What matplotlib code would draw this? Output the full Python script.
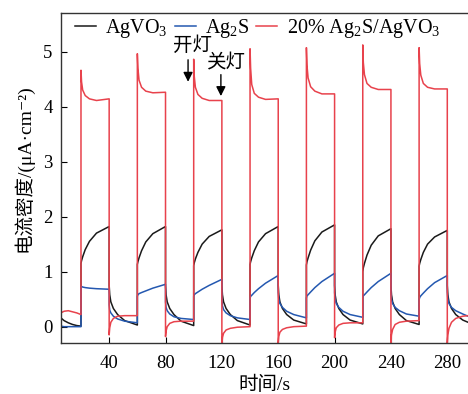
import matplotlib
matplotlib.use("Agg")
import matplotlib.pyplot as plt
import numpy as np

plt.rcParams['font.family'] = ['Liberation Serif', 'Noto Sans CJK SC', 'DejaVu Serif']
plt.rcParams['mathtext.fontset'] = 'custom'
plt.rcParams['mathtext.rm'] = 'Liberation Serif'
plt.rcParams['mathtext.it'] = 'Liberation Serif:italic'
plt.rcParams['mathtext.fallback'] = 'stix'

# 每段起点(s)与段内采样偏移(s)：灯在20,60,...开，40,80,...关
seg_start = [5.7, 20, 40, 60, 80, 100, 120, 140, 160, 180, 200, 220, 240, 260, 280]
first_offsets = [0, 2.3, 5.3, 8.3, 11.3, 14.3]
offsets = [0, 0.4, 1.2, 3, 6, 11, 20]
last_offsets = [0, 0.4, 1.2, 3, 6, 11, 14.7]

# AgVO3 (黑)
agvo3 = [
    [0.16, 0.11, 0.07, 0.04, 0.02, 0.01],
    [1.15, 1.20, 1.27, 1.40, 1.55, 1.70, 1.82],
    [0.75, 0.58, 0.45, 0.33, 0.22, 0.11, 0.03],
    [1.13, 1.18, 1.25, 1.38, 1.54, 1.69, 1.82],
    [0.75, 0.58, 0.45, 0.33, 0.22, 0.10, 0.02],
    [1.11, 1.16, 1.23, 1.35, 1.50, 1.64, 1.76],
    [0.75, 0.58, 0.45, 0.33, 0.22, 0.11, 0.03],
    [1.13, 1.18, 1.25, 1.38, 1.54, 1.69, 1.82],
    [0.75, 0.58, 0.45, 0.33, 0.22, 0.12, 0.05],
    [1.12, 1.18, 1.25, 1.39, 1.56, 1.72, 1.85],
    [0.75, 0.58, 0.45, 0.33, 0.22, 0.12, 0.05],
    [1.00, 1.07, 1.15, 1.30, 1.48, 1.65, 1.78],
    [0.75, 0.58, 0.45, 0.33, 0.22, 0.11, 0.04],
    [1.10, 1.15, 1.22, 1.35, 1.50, 1.63, 1.75],
    [0.75, 0.58, 0.45, 0.33, 0.22, 0.12, 0.08],
]

# Ag2S (蓝)
ag2s = [
    [0.01, 0.00, 0.00, 0.00, 0.00, 0.00],
    [0.72, 0.73, 0.72, 0.71, 0.70, 0.69, 0.68],
    [0.40, 0.30, 0.25, 0.19, 0.14, 0.10, 0.07],
    [0.55, 0.58, 0.60, 0.62, 0.65, 0.70, 0.77],
    [0.45, 0.35, 0.29, 0.23, 0.18, 0.15, 0.13],
    [0.55, 0.58, 0.60, 0.63, 0.68, 0.75, 0.86],
    [0.50, 0.38, 0.31, 0.25, 0.20, 0.16, 0.13],
    [0.52, 0.55, 0.57, 0.62, 0.69, 0.79, 0.93],
    [0.62, 0.50, 0.42, 0.35, 0.28, 0.22, 0.16],
    [0.52, 0.56, 0.58, 0.63, 0.71, 0.82, 0.97],
    [0.62, 0.50, 0.42, 0.35, 0.28, 0.22, 0.17],
    [0.52, 0.56, 0.58, 0.63, 0.71, 0.82, 0.97],
    [0.62, 0.50, 0.42, 0.35, 0.29, 0.23, 0.19],
    [0.49, 0.53, 0.56, 0.61, 0.69, 0.80, 0.93],
    [0.62, 0.50, 0.42, 0.35, 0.29, 0.23, 0.19],
]

# 20% Ag2S/AgVO3 (红)
composite = [
    [0.25, 0.28, 0.29, 0.27, 0.25, 0.22],
    [4.66, 4.45, 4.30, 4.20, 4.14, 4.11, 4.14],
    [-0.15, -0.02, 0.08, 0.15, 0.19, 0.20, 0.20],
    [4.96, 4.70, 4.48, 4.35, 4.28, 4.25, 4.26],
    [-0.18, -0.08, 0.00, 0.06, 0.09, 0.10, 0.10],
    [4.86, 4.55, 4.35, 4.22, 4.15, 4.11, 4.11],
    [-0.32, -0.20, -0.12, -0.06, -0.03, -0.01, 0.00],
    [5.05, 4.70, 4.40, 4.24, 4.17, 4.13, 4.14],
    [-0.30, -0.18, -0.10, -0.05, -0.02, 0.00, 0.01],
    [5.07, 4.75, 4.52, 4.36, 4.28, 4.23, 4.23],
    [-0.20, -0.10, -0.02, 0.03, 0.06, 0.07, 0.07],
    [5.12, 4.80, 4.58, 4.42, 4.35, 4.31, 4.31],
    [-0.30, -0.15, -0.05, 0.04, 0.08, 0.10, 0.11],
    [5.07, 4.78, 4.57, 4.42, 4.35, 4.32, 4.32],
    [-0.30, -0.15, -0.03, 0.08, 0.15, 0.19, 0.20],
]


def build_t():
    t = []
    for i, s in enumerate(seg_start):
        if i == 0:
            offs = first_offsets
        elif i == len(seg_start) - 1:
            offs = last_offsets
        else:
            offs = offsets
        t += [s + o for o in offs]
    return np.array(t)


t = build_t()

fig = plt.figure(figsize=(4.68, 3.94), dpi=100)
ax = fig.add_axes([0.130, 0.129, 0.870, 0.838])

ax.plot(t, sum(agvo3, []), color="#1a1a1a", lw=1.1, label="AgVO$_3$")
ax.plot(t, sum(ag2s, []), color="#2458b0", lw=1.1, label="Ag$_2$S")
ax.plot(t, sum(composite, []), color="#e8424c", lw=1.1, label="20% Ag$_2$S/AgVO$_3$")

ax.set_xlim(5.7, 294.7)
ax.set_ylim(-0.3, 5.7)
ax.set_xticks([40, 80, 120, 160, 200, 240, 280])
ax.set_yticks([0, 1, 2, 3, 4, 5])
ax.tick_params(direction="in", length=4, labelsize=13.5, width=0.8)
ax.tick_params(axis="x", pad=8.5)
ax.tick_params(axis="y", pad=6)
ax.spines["right"].set_visible(False)
for s in ["left", "bottom", "top"]:
    ax.spines[s].set_linewidth(1.0)
    ax.spines[s].set_color("#333333")

ax.set_xlabel("时间/s", fontsize=14, labelpad=3)
ax.set_ylabel("电流密度/(μA·cm⁻²)", fontsize=14)
ax.yaxis.set_label_coords(-0.068, 0.53)

ax.legend(loc="upper center", ncol=3, frameon=False, fontsize=14.5,
          handlelength=1.05, handletextpad=0.45, columnspacing=0.35,
          borderaxespad=0.0, bbox_to_anchor=(0.483, 1.013))

# 开灯/关灯 标注
arrow = dict(arrowstyle="-|>", color="black", lw=1.0,
             shrinkA=0, shrinkB=0, mutation_scale=14)
ax.annotate("", xy=(96, 4.45), xytext=(96, 4.85), arrowprops=arrow)
ax.text(99.4, 5.1, "开灯", ha="center", va="center", fontsize=14)
ax.annotate("", xy=(119.3, 4.19), xytext=(119.3, 4.58), arrowprops=arrow)
ax.text(122.9, 4.78, "关灯", ha="center", va="center", fontsize=14)

fig.savefig("out.png", dpi=100)
